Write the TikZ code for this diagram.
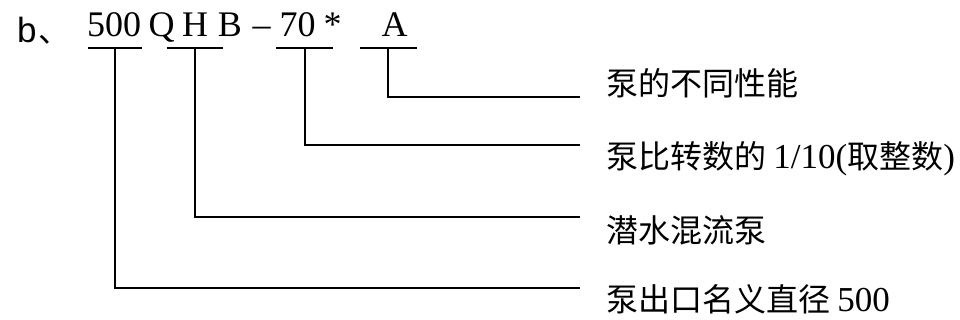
\documentclass[tikz,border=0pt]{standalone}
\usepackage{fontspec}
\setmainfont{Liberation Serif}
\newfontfamily\cjk{Noto Sans CJK SC}
\newfontfamily\sansf{Liberation Sans}
\newcommand{\latinpart}[1]{{\rmfamily\fontsize{35}{38}\selectfont #1}}
\begin{document}
\begin{tikzpicture}[x=1pt,y=-1pt,
  code/.style={anchor=base,inner sep=0pt,font=\fontsize{36}{40}\selectfont},
  lab/.style={anchor=base west,inner sep=0pt,font=\cjk\fontsize{32}{36}\selectfont},
  ln/.style={line width=2pt},
  conn/.style={line width=2pt}]
\useasboundingbox (0,0) rectangle (960,320);
% heading
\node[anchor=base west,inner sep=0pt,font=\sansf\fontsize{35}{40}\selectfont] (b) at (17,43) {b};
\node[anchor=base west,inner sep=0pt,font=\cjk\fontsize{32}{36}\selectfont] (dun) at (38,43) {、};
\node[code] (t500) at (114,37) {500};
\node[code] (tQ) at (161.5,37) {Q};
\node[code] (tH) at (195,37) {H};
\node[code] (tB) at (230,37) {B};
\node[code] (tdash) at (261.5,37) {–};
\node[code] (t70) at (297.5,37) {70};
\node[code] (tstar) at (332.5,37) {*};
\node[code] (tA) at (394.5,37) {A};
% underlines
\coordinate (u500) at (115,48);
\coordinate (uQHB) at (195,48);
\coordinate (u70) at (305,48);
\coordinate (uA) at (388,48);
\draw[ln] (88,48) -- (142,48);
\draw[ln] (167,48) -- (223,48);
\draw[ln] (276,48) -- (333,48);
\draw[ln] (360,48) -- (417,48);
% labels
\node[lab] (lA) at (606,96) {泵的不同性能};
\node[lab] (l70) at (606,169) {泵比转数的 \latinpart{1/10(}取整数\latinpart{)}};
\node[lab] (lQHB) at (606,243) {潜水混流泵};
\node[lab] (l500) at (606,311) {泵出口名义直径 \latinpart{500}};
% line ends
\coordinate (eA) at (580,97);
\coordinate (e70) at (580,145);
\coordinate (eQHB) at (580,217);
\coordinate (e500) at (580,288);
% connectors
\draw[conn] (uA) |- (eA);
\draw[conn] (u70) |- (e70);
\draw[conn] (uQHB) |- (eQHB);
\draw[conn] (u500) |- (e500);
\end{tikzpicture}
\end{document}
